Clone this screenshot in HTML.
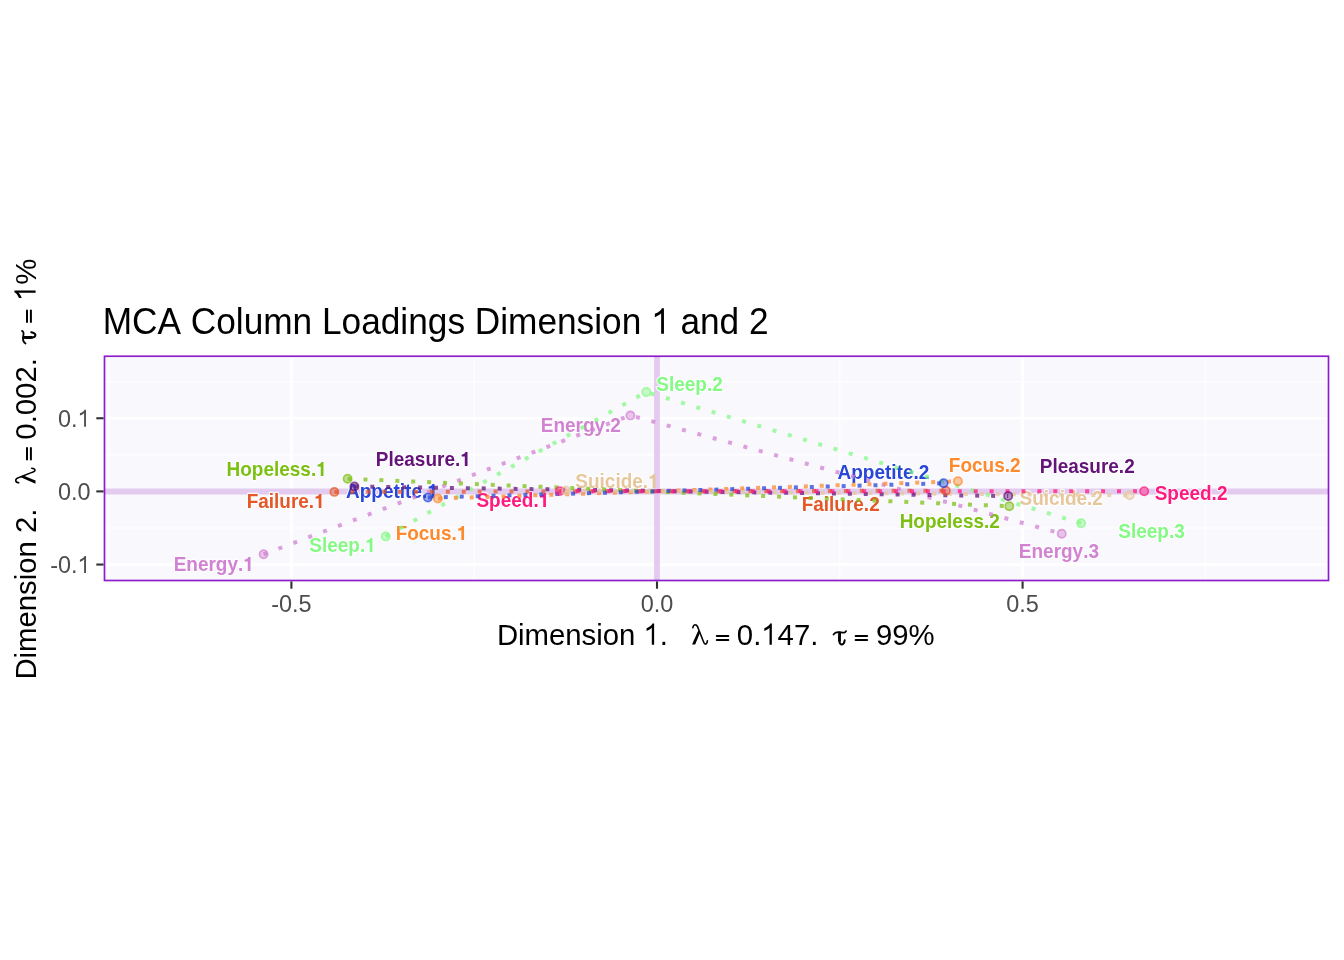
<!DOCTYPE html><html><head><meta charset="utf-8"><style>html,body{margin:0;padding:0;background:#fff;width:1344px;height:960px;overflow:hidden}svg{display:block;will-change:transform}text{font-family:"Liberation Sans",sans-serif;font-kerning:none}</style></head><body>
<svg width="1344" height="960" viewBox="0 0 1344 960">
<rect x="0" y="0" width="1344" height="960" fill="#fff"/>
<rect x="105.6" y="358.15" width="1221.1" height="221.25" fill="#f9f8fd"/>
<g>
<line x1="108.60" y1="356.25" x2="108.60" y2="580.5" stroke="#fff" stroke-width="1.2"/>
<line x1="474.20" y1="356.25" x2="474.20" y2="580.5" stroke="#fff" stroke-width="1.2"/>
<line x1="839.80" y1="356.25" x2="839.80" y2="580.5" stroke="#fff" stroke-width="1.2"/>
<line x1="1205.40" y1="356.25" x2="1205.40" y2="580.5" stroke="#fff" stroke-width="1.2"/>
<line x1="104.5" y1="527.98" x2="1328.5" y2="527.98" stroke="#fff" stroke-width="1.2"/>
<line x1="104.5" y1="454.82" x2="1328.5" y2="454.82" stroke="#fff" stroke-width="1.2"/>
<line x1="104.5" y1="381.67" x2="1328.5" y2="381.67" stroke="#fff" stroke-width="1.2"/>
<line x1="291.40" y1="356.25" x2="291.40" y2="580.5" stroke="#fff" stroke-width="2.7"/>
<line x1="657.00" y1="356.25" x2="657.00" y2="580.5" stroke="#fff" stroke-width="2.7"/>
<line x1="1022.60" y1="356.25" x2="1022.60" y2="580.5" stroke="#fff" stroke-width="2.7"/>
<line x1="104.5" y1="564.55" x2="1328.5" y2="564.55" stroke="#fff" stroke-width="2.7"/>
<line x1="104.5" y1="491.40" x2="1328.5" y2="491.40" stroke="#fff" stroke-width="2.7"/>
<line x1="104.5" y1="418.25" x2="1328.5" y2="418.25" stroke="#fff" stroke-width="2.7"/>
<line x1="104.5" y1="491.4" x2="1328.5" y2="491.4" stroke="#e3cbf0" stroke-width="6"/>
<line x1="657.0" y1="356.25" x2="657.0" y2="580.5" stroke="#e3cbf0" stroke-width="5.8"/>
<g style="paint-order:stroke" stroke="#fff" stroke-width="2.2" stroke-linejoin="round" stroke-opacity="0.8">
<g transform="translate(173.63,571.00) scale(1,1.03)" fill="#d282d2" ><text x="0.00" y="0" font-size="19.0" font-weight='bold'>Energy. </text><path transform="translate(69.69,0) scale(0.01900,-0.01900)" d="M378,0 L378,710 L270,710 C245,640 180,590 69,579 L69,489 L236,489 L236,0 Z"/></g>
<g transform="translate(226.53,476.00) scale(1,1.03)" fill="#7cc014" ><text x="0.00" y="0" font-size="19.0" font-weight='bold'>Hopeless. </text><path transform="translate(89.76,0) scale(0.01900,-0.01900)" d="M378,0 L378,710 L270,710 C245,640 180,590 69,579 L69,489 L236,489 L236,0 Z"/></g>
<g transform="translate(246.63,508.00) scale(1,1.03)" fill="#e45828" ><text x="0.00" y="0" font-size="19.0" font-weight='bold'>Failure. </text><path transform="translate(67.58,0) scale(0.01900,-0.01900)" d="M378,0 L378,710 L270,710 C245,640 180,590 69,579 L69,489 L236,489 L236,0 Z"/></g>
<g transform="translate(375.83,466.00) scale(1,1.03)" fill="#641478" ><text x="0.00" y="0" font-size="19.0" font-weight='bold'>Pleasure. </text><path transform="translate(84.50,0) scale(0.01900,-0.01900)" d="M378,0 L378,710 L270,710 C245,640 180,590 69,579 L69,489 L236,489 L236,0 Z"/></g>
<g transform="translate(346.03,498.00) scale(1,1.03)" fill="#2846d7" ><text x="0.00" y="0" font-size="19.0" font-weight='bold'>Appetite. </text><path transform="translate(81.28,0) scale(0.01900,-0.01900)" d="M378,0 L378,710 L270,710 C245,640 180,590 69,579 L69,489 L236,489 L236,0 Z"/></g>
<g transform="translate(309.25,552.00) scale(1,1.03)" fill="#84fa84" ><text x="0.00" y="0" font-size="19.0" font-weight='bold'>Sleep. </text><path transform="translate(55.97,0) scale(0.01900,-0.01900)" d="M378,0 L378,710 L270,710 C245,640 180,590 69,579 L69,489 L236,489 L236,0 Z"/></g>
<g transform="translate(395.63,540.00) scale(1,1.03)" fill="#fd8a2c" ><text x="0.00" y="0" font-size="19.0" font-weight='bold'>Focus. </text><path transform="translate(61.23,0) scale(0.01900,-0.01900)" d="M378,0 L378,710 L270,710 C245,640 180,590 69,579 L69,489 L236,489 L236,0 Z"/></g>
<g transform="translate(476.45,507.00) scale(1,1.03)" fill="#fe1a7f" ><text x="0.00" y="0" font-size="19.0" font-weight='bold'>Speed. </text><path transform="translate(62.30,0) scale(0.01900,-0.01900)" d="M378,0 L378,710 L270,710 C245,640 180,590 69,579 L69,489 L236,489 L236,0 Z"/></g>
<g transform="translate(575.35,488.00) scale(1,1.03)" fill="#e6c79c" ><text x="0.00" y="0" font-size="19.0" font-weight='bold'>Suicide. </text><path transform="translate(72.85,0) scale(0.01900,-0.01900)" d="M378,0 L378,710 L270,710 C245,640 180,590 69,579 L69,489 L236,489 L236,0 Z"/></g>
<g transform="translate(540.73,432.00) scale(1,1.03)" fill="#d282d2" ><text x="0.00" y="0" font-size="19.0" font-weight='bold'>Energy.2</text></g>
<g transform="translate(656.25,391.00) scale(1,1.03)" fill="#84fa84" ><text x="0.00" y="0" font-size="19.0" font-weight='bold'>Sleep.2</text></g>
<g transform="translate(837.53,479.00) scale(1,1.03)" fill="#2846d7" ><text x="0.00" y="0" font-size="19.0" font-weight='bold'>Appetite.2</text></g>
<g transform="translate(801.63,511.00) scale(1,1.03)" fill="#e45828" ><text x="0.00" y="0" font-size="19.0" font-weight='bold'>Failure.2</text></g>
<g transform="translate(899.63,528.00) scale(1,1.03)" fill="#7cc014" ><text x="0.00" y="0" font-size="19.0" font-weight='bold'>Hopeless.2</text></g>
<g transform="translate(948.83,472.00) scale(1,1.03)" fill="#fd8a2c" ><text x="0.00" y="0" font-size="19.0" font-weight='bold'>Focus.2</text></g>
<g transform="translate(1039.73,473.00) scale(1,1.03)" fill="#641478" ><text x="0.00" y="0" font-size="19.0" font-weight='bold'>Pleasure.2</text></g>
<g transform="translate(1154.65,500.00) scale(1,1.03)" fill="#fe1a7f" ><text x="0.00" y="0" font-size="19.0" font-weight='bold'>Speed.2</text></g>
<g transform="translate(1019.55,505.00) scale(1,1.03)" fill="#e6c79c" ><text x="0.00" y="0" font-size="19.0" font-weight='bold'>Suicide.2</text></g>
<g transform="translate(1118.25,538.00) scale(1,1.03)" fill="#84fa84" ><text x="0.00" y="0" font-size="19.0" font-weight='bold'>Sleep.3</text></g>
<g transform="translate(1018.83,558.00) scale(1,1.03)" fill="#d282d2" ><text x="0.00" y="0" font-size="19.0" font-weight='bold'>Energy.3</text></g>
</g>
<path d="M263.6,554.3 L630.4,415.4 L1061.7,533.7" fill="none" stroke="#d282d2" stroke-opacity="0.75" stroke-width="4" stroke-dasharray="3.98 11.94"/>
<path d="M385.7,536.4 L646.3,392.0 L1081.1,523.2" fill="none" stroke="#84fa84" stroke-opacity="0.75" stroke-width="4" stroke-dasharray="3.98 11.94"/>
<path d="M347.6,478.8 L1009.3,506.2" fill="none" stroke="#7cc014" stroke-opacity="0.75" stroke-width="4" stroke-dasharray="3.98 11.94"/>
<path d="M334.4,491.9 L945.9,490.7" fill="none" stroke="#e45828" stroke-opacity="0.75" stroke-width="4" stroke-dasharray="3.98 11.94"/>
<path d="M354.4,486.5 L1008.2,496.1" fill="none" stroke="#641478" stroke-opacity="0.75" stroke-width="4" stroke-dasharray="3.98 11.94"/>
<path d="M427.9,497.6 L943.6,483.3" fill="none" stroke="#2846d7" stroke-opacity="0.75" stroke-width="4" stroke-dasharray="3.98 11.94"/>
<path d="M437.9,498.5 L957.9,481.3" fill="none" stroke="#fd8a2c" stroke-opacity="0.75" stroke-width="4" stroke-dasharray="3.98 11.94"/>
<path d="M559.8,491.1 L1144.2,491.3" fill="none" stroke="#fe1a7f" stroke-opacity="0.75" stroke-width="4" stroke-dasharray="3.98 11.94"/>
<path d="M566.0,490.5 L1129.7,495.3" fill="none" stroke="#e6c79c" stroke-opacity="0.75" stroke-width="4" stroke-dasharray="3.98 11.94"/>
<circle cx="263.6" cy="554.3" r="4.1" fill="#d282d2" fill-opacity="0.45" stroke="#d282d2" stroke-opacity="0.7" stroke-width="1.7"/>
<circle cx="630.4" cy="415.4" r="4.1" fill="#d282d2" fill-opacity="0.45" stroke="#d282d2" stroke-opacity="0.7" stroke-width="1.7"/>
<circle cx="1061.7" cy="533.7" r="4.1" fill="#d282d2" fill-opacity="0.45" stroke="#d282d2" stroke-opacity="0.7" stroke-width="1.7"/>
<circle cx="385.7" cy="536.4" r="4.1" fill="#84fa84" fill-opacity="0.45" stroke="#84fa84" stroke-opacity="0.7" stroke-width="1.7"/>
<circle cx="646.3" cy="392.0" r="4.1" fill="#84fa84" fill-opacity="0.45" stroke="#84fa84" stroke-opacity="0.7" stroke-width="1.7"/>
<circle cx="1081.1" cy="523.2" r="4.1" fill="#84fa84" fill-opacity="0.45" stroke="#84fa84" stroke-opacity="0.7" stroke-width="1.7"/>
<circle cx="347.6" cy="478.8" r="4.1" fill="#7cc014" fill-opacity="0.45" stroke="#7cc014" stroke-opacity="0.7" stroke-width="1.7"/>
<circle cx="1009.3" cy="506.2" r="4.1" fill="#7cc014" fill-opacity="0.45" stroke="#7cc014" stroke-opacity="0.7" stroke-width="1.7"/>
<circle cx="334.4" cy="491.9" r="4.1" fill="#e45828" fill-opacity="0.45" stroke="#e45828" stroke-opacity="0.7" stroke-width="1.7"/>
<circle cx="945.9" cy="490.7" r="4.1" fill="#e45828" fill-opacity="0.45" stroke="#e45828" stroke-opacity="0.7" stroke-width="1.7"/>
<circle cx="354.4" cy="486.5" r="4.1" fill="#641478" fill-opacity="0.45" stroke="#641478" stroke-opacity="0.7" stroke-width="1.7"/>
<circle cx="1008.2" cy="496.1" r="4.1" fill="#641478" fill-opacity="0.45" stroke="#641478" stroke-opacity="0.7" stroke-width="1.7"/>
<circle cx="427.9" cy="497.6" r="4.1" fill="#2846d7" fill-opacity="0.45" stroke="#2846d7" stroke-opacity="0.7" stroke-width="1.7"/>
<circle cx="943.6" cy="483.3" r="4.1" fill="#2846d7" fill-opacity="0.45" stroke="#2846d7" stroke-opacity="0.7" stroke-width="1.7"/>
<circle cx="437.9" cy="498.5" r="4.1" fill="#fd8a2c" fill-opacity="0.45" stroke="#fd8a2c" stroke-opacity="0.7" stroke-width="1.7"/>
<circle cx="957.9" cy="481.3" r="4.1" fill="#fd8a2c" fill-opacity="0.45" stroke="#fd8a2c" stroke-opacity="0.7" stroke-width="1.7"/>
<circle cx="559.8" cy="491.1" r="4.1" fill="#fe1a7f" fill-opacity="0.45" stroke="#fe1a7f" stroke-opacity="0.7" stroke-width="1.7"/>
<circle cx="1144.2" cy="491.3" r="4.1" fill="#fe1a7f" fill-opacity="0.45" stroke="#fe1a7f" stroke-opacity="0.7" stroke-width="1.7"/>
<circle cx="566.0" cy="490.5" r="4.1" fill="#e6c79c" fill-opacity="0.45" stroke="#e6c79c" stroke-opacity="0.7" stroke-width="1.7"/>
<circle cx="1129.7" cy="495.3" r="4.1" fill="#e6c79c" fill-opacity="0.45" stroke="#e6c79c" stroke-opacity="0.7" stroke-width="1.7"/>
</g>
<rect x="104.5" y="356.25" width="1224.0" height="224.25" fill="none" stroke="#8e1ccb" stroke-width="1.7"/>
<line x1="291.40" y1="581.4" x2="291.40" y2="588.7" stroke="#333" stroke-width="2.1"/>
<line x1="657.00" y1="581.4" x2="657.00" y2="588.7" stroke="#333" stroke-width="2.1"/>
<line x1="1022.60" y1="581.4" x2="1022.60" y2="588.7" stroke="#333" stroke-width="2.1"/>
<line x1="103.6" y1="564.55" x2="96.3" y2="564.55" stroke="#333" stroke-width="2.1"/>
<line x1="103.6" y1="491.40" x2="96.3" y2="491.40" stroke="#333" stroke-width="2.1"/>
<line x1="103.6" y1="418.25" x2="96.3" y2="418.25" stroke="#333" stroke-width="2.1"/>
<g transform="translate(291.40,611.60) scale(1,1.03)" fill="#4d4d4d" ><text x="-20.22" y="0" font-size="23.47">-0.5</text></g>
<g transform="translate(657.00,611.60) scale(1,1.03)" fill="#4d4d4d" ><text x="-16.31" y="0" font-size="23.47">0.0</text></g>
<g transform="translate(1022.60,611.60) scale(1,1.03)" fill="#4d4d4d" ><text x="-16.31" y="0" font-size="23.47">0.5</text></g>
<g transform="translate(90.60,572.95) scale(1,1.03)" fill="#4d4d4d" ><text x="-40.44" y="0" font-size="23.47">-0. </text><path transform="translate(-13.05,0) scale(0.02347,-0.02347)" d="M359,0 L359,703 L300,703 C280,650 230,600 101,551 L101,458 C180,490 240,520 280,565 L280,0 Z"/></g>
<g transform="translate(90.60,499.80) scale(1,1.03)" fill="#4d4d4d" ><text x="-32.63" y="0" font-size="23.47">0.0</text></g>
<g transform="translate(90.60,426.65) scale(1,1.03)" fill="#4d4d4d" ><text x="-32.63" y="0" font-size="23.47">0. </text><path transform="translate(-13.05,0) scale(0.02347,-0.02347)" d="M359,0 L359,703 L300,703 C280,650 230,600 101,551 L101,458 C180,490 240,520 280,565 L280,0 Z"/></g>
<g transform="translate(102.70,333.80) scale(1,1.03)" fill="#000" ><text x="0.00" y="0" font-size="35.25">MCA Column Loadings Dimension   and 2</text><path transform="translate(548.58,0) scale(0.03525,-0.03525)" d="M359,0 L359,703 L300,703 C280,650 230,600 101,551 L101,458 C180,490 240,520 280,565 L280,0 Z"/></g>
<g transform="translate(496.89,644.80) scale(1,1.03)" fill="#000" ><text x="0.00" y="0" font-size="29.33">Dimension  .</text><path transform="translate(146.71,0) scale(0.02933,-0.02933)" d="M359,0 L359,703 L300,703 C280,650 230,600 101,551 L101,458 C180,490 240,520 280,565 L280,0 Z"/></g>
<g transform="translate(691.90,624.10)"><g fill="none" stroke="#000" stroke-linecap="round"><path d="M0.9,3.7 C1.4,1.5 2.4,0.6 3.5,0.7 C5.0,0.8 5.8,2.4 6.5,4.6 L11.6,17.6 C12.2,19.4 12.9,20.2 13.8,20.0 C14.8,19.8 15.2,18.5 15.5,16.7" stroke-width="1.55"/><path d="M6.6,5.8 L8.0,8.9 L3.3,20.5 L0.1,20.5 Z" fill="#000" stroke="none"/></g></g>
<g transform="translate(715.80,644.60)"><g stroke="#000" stroke-width="2.0" stroke-linecap="round"><line x1="1" y1="-8.5" x2="12.5" y2="-8.5"/><line x1="1" y1="-4.6" x2="12.5" y2="-4.6"/></g></g>
<g transform="translate(736.85,644.80) scale(1,1.03)" fill="#000" ><text x="0.00" y="0" font-size="29.33">0. 47.</text><path transform="translate(24.46,0) scale(0.02933,-0.02933)" d="M359,0 L359,703 L300,703 C280,650 230,600 101,551 L101,458 C180,490 240,520 280,565 L280,0 Z"/></g>
<g transform="translate(833.20,644.60)"><g fill="none" stroke="#000" stroke-linecap="round"><path d="M0.3,-10.0 C1.5,-12.0 3.0,-12.5 5.0,-12.5 C7.5,-12.4 9.5,-11.8 11.0,-12.0 C12.0,-12.2 12.5,-12.8 12.8,-13.5" stroke-width="1.8"/><path d="M6.5,-11.8 C6.2,-8.5 5.8,-5.5 6.2,-3.0 C6.6,-0.8 7.6,0.0 8.8,-0.1 C10.0,-0.3 11.1,-1.9 11.5,-4.3" stroke-width="2.0"/><path d="M6.5,-11.8 C6.3,-9 6.1,-6.5 6.4,-4" stroke-width="2.8"/></g></g>
<g transform="translate(854.60,644.60)"><g stroke="#000" stroke-width="2.0" stroke-linecap="round"><line x1="1" y1="-8.5" x2="12.5" y2="-8.5"/><line x1="1" y1="-4.6" x2="12.5" y2="-4.6"/></g></g>
<g transform="translate(875.93,644.80) scale(1,1.03)" fill="#000" ><text x="0.00" y="0" font-size="29.33">99%</text></g>
<g transform="translate(35.6,677.20) rotate(-90)"><g transform="translate(-2.41,0.00) scale(1,1.03)" fill="#000" ><text x="0.00" y="0" font-size="29.33">Dimension 2.</text></g></g>
<g transform="translate(35.5,483.75) rotate(-90) translate(0,-20.5)"><g fill="none" stroke="#000" stroke-linecap="round"><path d="M0.9,3.7 C1.4,1.5 2.4,0.6 3.5,0.7 C5.0,0.8 5.8,2.4 6.5,4.6 L11.6,17.6 C12.2,19.4 12.9,20.2 13.8,20.0 C14.8,19.8 15.2,18.5 15.5,16.7" stroke-width="1.55"/><path d="M6.6,5.8 L8.0,8.9 L3.3,20.5 L0.1,20.5 Z" fill="#000" stroke="none"/></g></g>
<g transform="translate(35.5,460.60) rotate(-90) translate(0,0)"><g stroke="#000" stroke-width="2.0" stroke-linecap="round"><line x1="1" y1="-8.5" x2="12.5" y2="-8.5"/><line x1="1" y1="-4.6" x2="12.5" y2="-4.6"/></g></g>
<g transform="translate(35.6,438.50) rotate(-90)"><g transform="translate(-1.15,0.00) scale(1,1.03)" fill="#000" ><text x="0.00" y="0" font-size="29.33">0.002.</text></g></g>
<g transform="translate(35.5,343.75) rotate(-90) translate(0,0)"><g fill="none" stroke="#000" stroke-linecap="round"><path d="M0.3,-10.0 C1.5,-12.0 3.0,-12.5 5.0,-12.5 C7.5,-12.4 9.5,-11.8 11.0,-12.0 C12.0,-12.2 12.5,-12.8 12.8,-13.5" stroke-width="1.8"/><path d="M6.5,-11.8 C6.2,-8.5 5.8,-5.5 6.2,-3.0 C6.6,-0.8 7.6,0.0 8.8,-0.1 C10.0,-0.3 11.1,-1.9 11.5,-4.3" stroke-width="2.0"/><path d="M6.5,-11.8 C6.3,-9 6.1,-6.5 6.4,-4" stroke-width="2.8"/></g></g>
<g transform="translate(35.5,323.10) rotate(-90) translate(0,0)"><g stroke="#000" stroke-width="2.0" stroke-linecap="round"><line x1="1" y1="-8.5" x2="12.5" y2="-8.5"/><line x1="1" y1="-4.6" x2="12.5" y2="-4.6"/></g></g>
<g transform="translate(35.6,298.80) rotate(-90)"><g transform="translate(-2.23,0.00) scale(1,1.03)" fill="#000" ><text x="0.00" y="0" font-size="29.33"> %</text><path transform="translate(0.00,0) scale(0.02933,-0.02933)" d="M359,0 L359,703 L300,703 C280,650 230,600 101,551 L101,458 C180,490 240,520 280,565 L280,0 Z"/></g></g>
</svg></body></html>
